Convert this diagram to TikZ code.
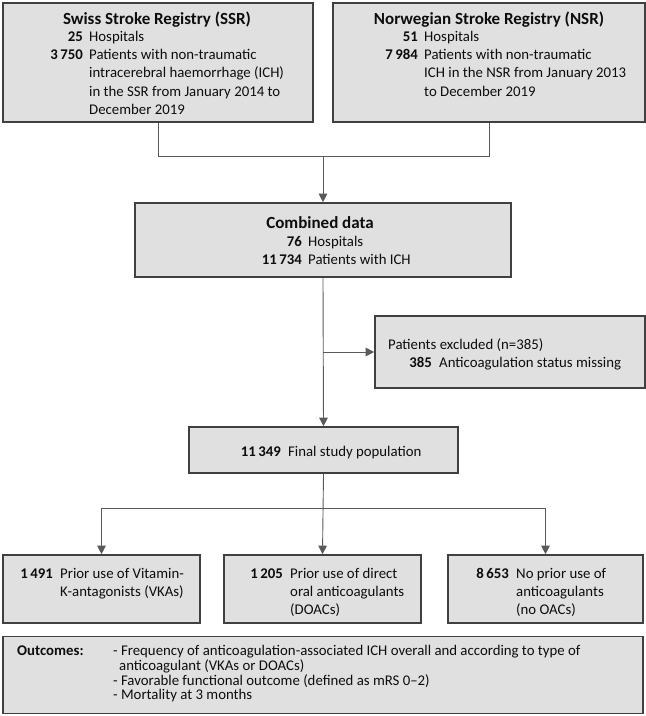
\documentclass[tikz,border=0pt]{standalone}
\usepackage{fontspec}
\setmainfont{Carlito}
\usetikzlibrary{arrows.meta}
\definecolor{boxfill}{HTML}{E0E0E0}
\definecolor{edgecol}{HTML}{404040}
\definecolor{linecol}{HTML}{5A5A5A}
\definecolor{inkcol}{HTML}{0D0D0D}
\begin{document}
\begin{tikzpicture}[x=1pt,y=-1pt,
  box/.style={draw=edgecol, fill=boxfill, line width=1.6pt, inner sep=0pt, rectangle},
  conn/.style={draw=linecol, line width=0.9pt},
  arr/.style={conn, -{Triangle[width=8.5pt,length=8.5pt]}},
  ttl/.style={inner sep=0pt, anchor=base, text=inkcol, font=\fontsize{17}{20}\selectfont\bfseries},
  num/.style={inner sep=0pt, anchor=base east, text=inkcol, font=\fontsize{14.8}{18.4}\selectfont\bfseries},
  body/.style={inner sep=0pt, anchor=base west, text=inkcol, font=\fontsize{14.8}{18.4}\selectfont},
  tight/.style={inner sep=0pt, anchor=base west, text=inkcol, font=\fontsize{14.8}{14.3}\selectfont},
]
\useasboundingbox (0,0) rectangle (646,716);

% boxes
\node[box, minimum width=310pt, minimum height=119pt] (ssr) at (158,62.5) {};
\node[box, minimum width=312pt, minimum height=119pt] (nsr) at (489,62.5) {};
\node[box, minimum width=376pt, minimum height=74pt] (comb) at (323,240) {};
\node[box, minimum width=270pt, minimum height=72pt] (excl) at (510,352) {};
\node[box, minimum width=269pt, minimum height=46pt] (final) at (323.5,450) {};
\node[box, minimum width=197pt, minimum height=68pt] (vka) at (101.5,589) {};
\node[box, minimum width=197pt, minimum height=68pt] (doac) at (322.5,589) {};
\node[box, minimum width=195pt, minimum height=68pt] (noac) at (545.5,589) {};
\node[box, minimum width=640pt, minimum height=77pt] (out) at (323,675) {};

% connectors
\coordinate (j1) at (323,156);
\coordinate (j3) at (323,352);
\coordinate (j2) at (323,508);
\draw[conn] (ssr.south) |- (j1);
\draw[conn] (nsr.south) |- (j1);
\draw[arr] (j1) -- (comb.north);
\draw[arr] (comb.south) -- (final.north);
\draw[arr] (j3) -- (excl.west);
\draw[arr] (final.south) -- (doac.north);
\draw[arr] (j2) -| (vka.north);
\draw[arr] (j2) -| (noac.north);

% SSR
\node[ttl] (ssrh) at (157,24) {Swiss Stroke Registry (SSR)};
\node[num] (ssrn) at (83,41) {\begin{tabular}[t]{@{}r@{}}25\\3\,750\end{tabular}};
\node[body] (ssrt) at (89,41) {\begin{tabular}[t]{@{}l@{}}Hospitals\\Patients with non-traumatic\\intracerebral haemorrhage (ICH)\\in the SSR from January 2014 to\\December 2019\end{tabular}};

% NSR
\node[ttl] (nsrh) at (489,24) {Norwegian Stroke Registry (NSR)};
\node[num] (nsrn) at (418,41) {\begin{tabular}[t]{@{}r@{}}51\\7\,984\end{tabular}};
\node[body] (nsrt) at (424,41) {\begin{tabular}[t]{@{}l@{}}Hospitals\\Patients with non-traumatic\\ICH in the NSR from January 2013\\to December 2019\end{tabular}};

% Combined
\node[ttl] (combh) at (320,228) {Combined data};
\node[num] (combn) at (302,246) {\begin{tabular}[t]{@{}r@{}}76\\11\,734\end{tabular}};
\node[body] (combt) at (308,246) {\begin{tabular}[t]{@{}l@{}}Hospitals\\Patients with ICH\end{tabular}};

% Excluded
\node[body] (exclh) at (388,349) {Patients excluded (n=385)};
\node[num] (excln) at (432,367) {385};
\node[body] (exclt) at (439,367) {Anticoagulation status missing};

% Final
\node[num] (finn) at (281,456) {11\,349};
\node[body] (fint) at (288,456) {Final study population};

% Bottom groups
\node[num] (vkan) at (53,578) {1\,491};
\node[body] (vkat) at (60,578) {\begin{tabular}[t]{@{}l@{}}Prior use of Vitamin-\\K-antagonists (VKAs)\end{tabular}};
\node[num] (doacn) at (283,578) {1\,205};
\node[body] (doact) at (290,578) {\begin{tabular}[t]{@{}l@{}}Prior use of direct\\oral anticoagulants\\(DOACs)\end{tabular}};
\node[num] (noacn) at (509,578) {8\,653};
\node[body] (noact) at (516,578) {\begin{tabular}[t]{@{}l@{}}No prior use of\\anticoagulants\\(no OACs)\end{tabular}};

% Outcomes
\node[num, anchor=base west] (outh) at (17,655) {Outcomes:};
\node[tight] (outt) at (113,655) {\begin{tabular}[t]{@{}l@{}}- Frequency of anticoagulation-associated ICH overall and according to type of\\\hspace{6pt}anticoagulant (VKAs or DOACs)\\- Favorable functional outcome (defined as mRS 0–2)\\- Mortality at 3 months\end{tabular}};
\end{tikzpicture}
\end{document}
